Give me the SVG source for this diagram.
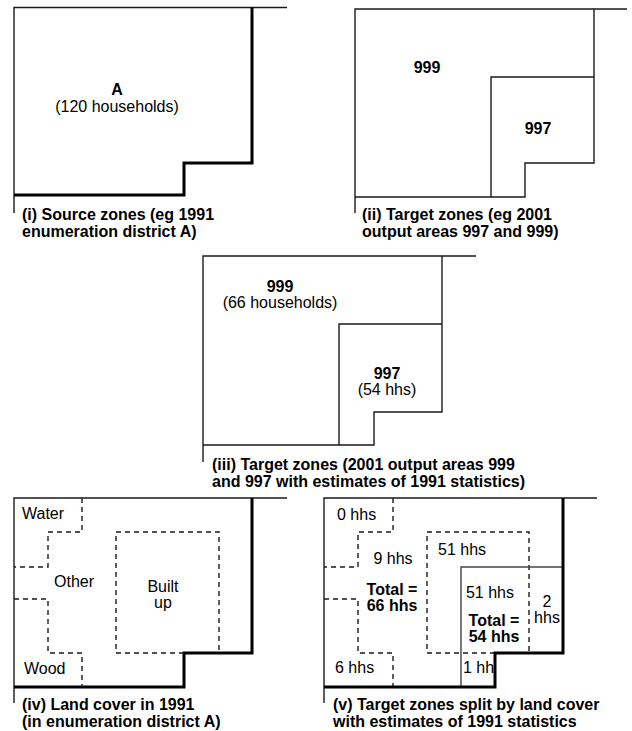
<svg xmlns="http://www.w3.org/2000/svg" width="632" height="731" viewBox="0 0 632 731">
<style>
.bg{fill:#ffffff}
.thin{fill:none;stroke:#1a1a1a;stroke-width:1.4}
.thick{fill:none;stroke:#000;stroke-width:3;stroke-linejoin:miter}
.dash{fill:none;stroke:#1a1a1a;stroke-width:1.4;stroke-dasharray:5 4}
.zone{fill:none;stroke:#444;stroke-width:1.4}
text{font-family:"Liberation Sans",Arial,sans-serif;font-size:16px;fill:#000}
.b{font-weight:bold}
.m{text-anchor:middle}
</style>
<rect class="bg" x="0" y="0" width="632" height="731"/>

<g id="panel-i">
  <path class="thin" d="M14,213 V7.5 H287"/>
  <path class="thick" d="M252,7.5 V163 H184 V195 H14"/>
  <text class="b m" x="117" y="95">A</text>
  <text class="m" x="117" y="112">(120 households)</text>
  <text class="b" x="22" y="220">(i) Source zones (eg 1991</text>
  <text class="b" x="22" y="237">enumeration district A)</text>
</g>

<g id="panel-ii">
  <path class="thin" d="M355,213 V9 H627"/>
  <path class="thin" d="M594,9 V163 H525 V197 H355"/>
  <path class="thin" d="M491,197 V77 H594"/>
  <text class="b m" x="427" y="73">999</text>
  <text class="b m" x="538" y="134">997</text>
  <text class="b" x="362" y="220">(ii) Target zones (eg 2001</text>
  <text class="b" x="362" y="237">output areas 997 and 999)</text>
</g>

<g id="panel-iii">
  <path class="thin" d="M203,462 V256 H476"/>
  <path class="thin" d="M442,256 V412 H374 V445 H203"/>
  <path class="thin" d="M339,445 V324 H442"/>
  <text class="b m" x="280" y="292">999</text>
  <text class="m" x="280" y="308">(66 households)</text>
  <text class="b m" x="387" y="379">997</text>
  <text class="m" x="387" y="395">(54 hhs)</text>
  <text class="b" x="212" y="470">(iii) Target zones (2001 output areas 999</text>
  <text class="b" x="212" y="487">and 997 with estimates of 1991 statistics)</text>
</g>

<g id="panel-iv">
  <path class="thin" d="M14,703 V498 H287"/>
  <path class="thick" d="M252,498 V653 H184 V687 H14"/>
  <path class="dash" d="M82,498 V532 H48 V567 H14"/>
  <path class="dash" d="M14,599 H48 V653 H82 V687"/>
  <path class="dash" d="M184,653 H116 V532 H219 V653"/>
  <text x="22" y="519">Water</text>
  <text class="m" x="74" y="587">Other</text>
  <text class="m" x="163" y="592">Built</text>
  <text class="m" x="163" y="608">up</text>
  <text x="24" y="674">Wood</text>
  <text class="b" x="22" y="710">(iv) Land cover in 1991</text>
  <text class="b" x="22" y="727">(in enumeration district A)</text>
</g>

<g id="panel-v">
  <path class="thin" d="M324,703 V498 H597"/>
  <path class="dash" d="M393,498 V532 H358 V567 H324"/>
  <path class="dash" d="M324,599 H358 V653 H393 V687"/>
  <path class="dash" d="M495,653 H427 V532 H529 V653"/>
  <path class="zone" d="M461,687 V567 H563"/>
  <path class="thick" d="M563,498 V653 H495 V687 H324"/>
  <text x="337" y="520">0 hhs</text>
  <text class="m" x="393" y="564">9 hhs</text>
  <text x="438" y="555">51 hhs</text>
  <text class="b m" x="392" y="595">Total =</text>
  <text class="b m" x="392" y="611">66 hhs</text>
  <text class="m" x="490" y="598">51 hhs</text>
  <text class="m" x="547" y="607">2</text>
  <text class="m" x="547" y="623">hhs</text>
  <text class="b m" x="494" y="626">Total =</text>
  <text class="b m" x="494" y="642">54 hhs</text>
  <text x="335" y="673">6 hhs</text>
  <text x="463" y="673">1 hh</text>
  <text class="b" x="333" y="710">(v) Target zones split by land cover</text>
  <text class="b" x="333" y="727">with estimates of 1991 statistics</text>
</g>
</svg>
